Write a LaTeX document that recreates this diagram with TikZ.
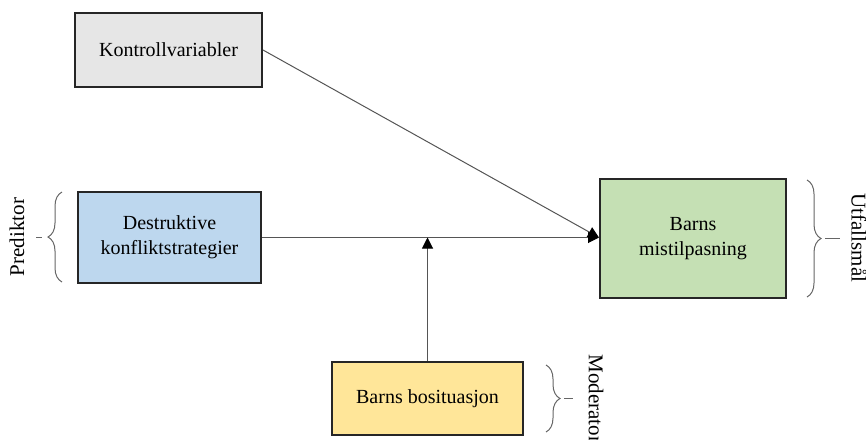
\documentclass[tikz,border=0pt]{standalone}
\usepackage{fontspec}
\setmainfont{Liberation Serif}
\usepackage{tikz}
\usetikzlibrary{arrows.meta,calc,decorations.pathreplacing}

\definecolor{boxgray}{HTML}{E6E6E6}
\definecolor{boxblue}{HTML}{BDD7EE}
\definecolor{boxgreen}{HTML}{C5E0B4}
\definecolor{boxyellow}{HTML}{FFE699}
\definecolor{linegray}{HTML}{555555}

\begin{document}
\begin{tikzpicture}[x=0.5pt, y=-0.5pt,
    varbox/.style={draw=black!85, line width=1pt, align=center,
        font=\fontsize{10}{12.5}\selectfont, inner sep=0pt},
    link/.style={draw=linegray, line width=0.5pt,
        -{Triangle[length=5.5pt,width=5.5pt,color=black]}},
    grp/.style={draw=black!60, line width=0.5pt,
        decorate, decoration={brace, amplitude=7pt}},
    grplabel/.style={font=\fontsize{10.5}{12}\selectfont}]

\useasboundingbox (0,0) rectangle (866,439);

\node [varbox, fill=boxgray, minimum width=93.5pt, minimum height=37pt]
    (kontroll) at (168.5, 50) {Kontrollvariabler};
\node [varbox, fill=boxblue, minimum width=91.5pt, minimum height=45.5pt]
    (destruktiv) at (169.5, 237.5) {Destruktive\\konfliktstrategier};
\node [varbox, fill=boxgreen, minimum width=93pt, minimum height=59.5pt]
    (mistil) at (693, 238.5) {Barns\\mistilpasning};
\node [varbox, fill=boxyellow, minimum width=95.5pt, minimum height=36.5pt]
    (bosit) at (427.5, 398.5) {Barns bosituasjon};

\coordinate (inn) at (destruktiv.east -| mistil.west);
\coordinate (moderert) at (destruktiv.east -| bosit.north);

\draw [link] (kontroll.east) -- (inn);
\draw [link] (destruktiv.east) -- (inn);
\draw [link] (bosit.north) -- (moderert);

% grupper
\draw [grp] (62,282) -- (62,192);
\draw [draw=black!60, line width=0.5pt] (36,237) -- (42,237);
\node [grplabel, rotate=90] (prediktor) at (17,237) {Prediktor};

\draw [grp] (807,180) -- (807,297);
\draw [draw=black!60, line width=0.5pt] (825,238.5) -- (840,238.5);
\node [grplabel, rotate=-90] (utfall) at (859,238) {Utfallsmål};

\draw [grp] (546,365) -- (546,432);
\draw [draw=black!60, line width=0.5pt] (564,398.5) -- (573,398.5);
\node [grplabel, rotate=-90] (moderator) at (596,399) {Moderator};

\end{tikzpicture}
\end{document}
